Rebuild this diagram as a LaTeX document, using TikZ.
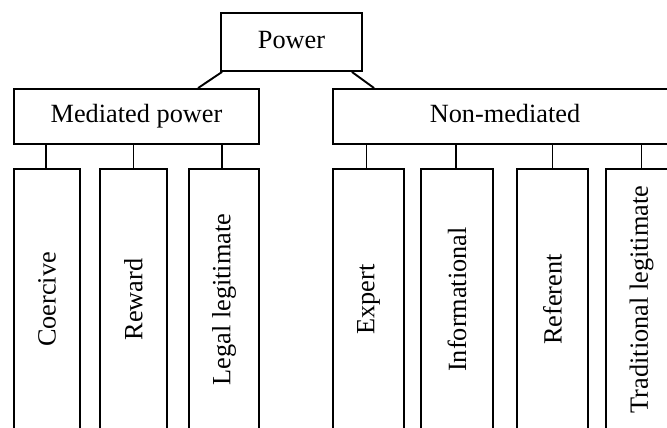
\documentclass[tikz,border=0pt]{standalone}
\usepackage{fontspec}
\setmainfont{Liberation Serif}
\usetikzlibrary{positioning}

\begin{document}
\begin{tikzpicture}[x=1pt, y=-1pt, line width=1.9pt,
    box/.style={draw, inner sep=0pt, font=\fontsize{26.3}{31}\selectfont},
    groupbox/.style={box, text height=18.4pt, text depth=5.8pt},
    leafbox/.style={box, minimum height=261pt}]
    \useasboundingbox (0,0) rectangle (667,428);
    \clip (0,0) rectangle (667,428);

    % Top level
    \node[groupbox, minimum width=141pt, minimum height=58pt] (power) at (291.5,42) {Power};

    % Two groups
    \node[groupbox, minimum width=245pt, minimum height=55pt] (med) at (136.5,116.5) {Mediated power};
    \node[groupbox, minimum width=344pt, minimum height=55pt] (nonmed) at (505,116.5) {Non-mediated};

    % Mediated kinds
    \node[leafbox, minimum width=66pt] (coercive) at (47,299.5) {\rotatebox{90}{Coercive}};
    \node[leafbox, minimum width=67pt] (reward) at (133.5,299.5) {\rotatebox{90}{Reward}};
    \node[leafbox, minimum width=70pt] (legal) at (224,299.5) {\rotatebox{90}{Legal legitimate}};

    % Non-mediated kinds
    \node[leafbox, minimum width=71pt] (expert) at (368.5,299.5) {\rotatebox{90}{Expert}};
    \node[leafbox, minimum width=72pt] (informational) at (457,299.5) {\rotatebox{90}{Informational}};
    \node[leafbox, minimum width=71pt] (referent) at (552.5,299.5) {\rotatebox{90}{Referent}};
    \node[leafbox, minimum width=71pt] (traditional) at (641.5,299.5) {\rotatebox{90}{Traditional legitimate}};

    % Links from the top
    \draw ([xshift=2pt]power.south west) -- ([xshift=185pt]med.north west);
    \draw ([xshift=-11pt]power.south east) -- ([xshift=42pt]nonmed.north west);

    % Links to the kinds
    \draw ([xshift=-1pt]coercive.north) -- ([xshift=-1pt]coercive.north |- med.south);
    \draw (reward.north) -- (reward.north |- med.south);
    \draw ([xshift=-2pt]legal.north) -- ([xshift=-2pt]legal.north |- med.south);
    \draw ([xshift=-2pt]expert.north) -- ([xshift=-2pt]expert.north |- nonmed.south);
    \draw ([xshift=-1pt]informational.north) -- ([xshift=-1pt]informational.north |- nonmed.south);
    \draw (referent.north) -- (referent.north |- nonmed.south);
    \draw (traditional.north) -- (traditional.north |- nonmed.south);
\end{tikzpicture}
\end{document}
